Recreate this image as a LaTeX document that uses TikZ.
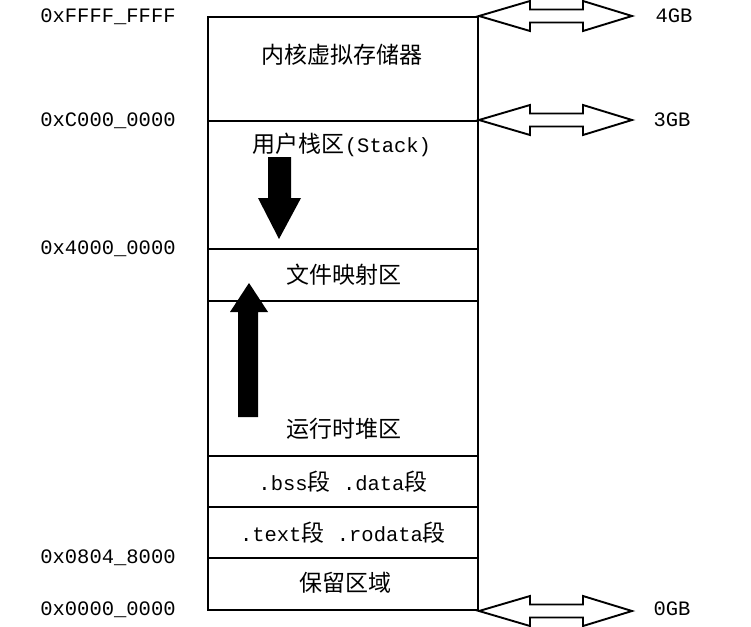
\documentclass[tikz,border=0pt]{standalone}
\usepackage{fontspec}
\setmainfont{Liberation Mono}
\newfontfamily\cjk{Noto Sans CJK SC}
\newcommand\zhtxt[1]{{\cjk\fontsize{23}{26}\selectfont #1}}
\newcommand\dblarr[1]{\draw[dbl] (#1) -- ++(51,-15) -- ++(0,8.5) -- ++(53,0) -- ++(0,-8.5) -- ++(49,15) -- ++(-49,15) -- ++(0,-8.5) -- ++(-53,0) -- ++(0,8.5) -- cycle;}
\begin{document}
\begin{tikzpicture}[x=1pt,y=-1pt,
  row/.style={draw, line width=2pt, minimum width=270pt, inner sep=0pt, anchor=north west},
  lat/.style={font=\fontsize{20.5}{24}\selectfont, inner sep=0pt},
  dbl/.style={draw, line width=1.9pt, fill=white, line join=miter},
  blk/.style={fill=black}
]
\useasboundingbox (0,0) rectangle (751,626);
% memory rows
\node[row, minimum height=104pt] (kern)  at (207,16)  {};
\node[row, minimum height=128pt] (stack) at (207,120) {};
\node[row, minimum height=52pt]  (mmap)  at (207,248) {};
\node[row, minimum height=155pt] (heap)  at (207,300) {};
\node[row, minimum height=51pt]  (bss)   at (207,455) {};
\node[row, minimum height=51pt]  (text)  at (207,506) {};
\node[row, minimum height=52pt]  (resv)  at (207,557) {};
% row texts
\node[lat] (tkern)  at (342,55)  {\zhtxt{内核虚拟存储器}};
\node[lat] (tstack) at (342,145) {\zhtxt{用户栈区}(Stack)};
\node[lat] (tmmap)  at (344,275) {\zhtxt{文件映射区}};
\node[lat] (theap)  at (344,429) {\zhtxt{运行时堆区}};
\node[lat] (tbss)   at (343,482) {.bss\zhtxt{段} .data\zhtxt{段}};
\node[lat] (ttext)  at (343,533) {.text\zhtxt{段} .rodata\zhtxt{段}};
\node[lat] (tresv)  at (345,583) {\zhtxt{保留区域}};
% growth arrows
\fill[blk] (268,157) -- (291,157) -- (291,198) -- (301,198) -- (279,239) -- (258,198) -- (268,198) -- cycle;
\fill[blk] (238,417) -- (258,417) -- (258,312) -- (268,312) -- (249,283) -- (230,312) -- (238,312) -- cycle;
% address labels
\node[lat] (a1) at (108,17)  {0xFFFF\_FFFF};
\node[lat] (a2) at (108,121) {0xC000\_0000};
\node[lat] (a3) at (108,249) {0x4000\_0000};
\node[lat] (a4) at (108,558) {0x0804\_8000};
\node[lat] (a5) at (108,610) {0x0000\_0000};
% size markers
\dblarr{kern.north east}
\dblarr{stack.north east}
\dblarr{resv.south east}
\node[lat] (g4) at (674,16)  {4GB};
\node[lat] (g3) at (672,120) {3GB};
\node[lat] (g0) at (672,609) {0GB};
\end{tikzpicture}
\end{document}
